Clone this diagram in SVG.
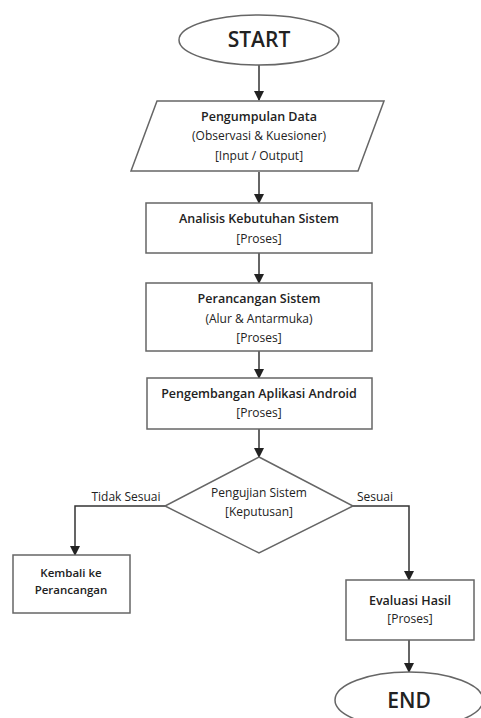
<svg xmlns="http://www.w3.org/2000/svg" width="481" height="718" viewBox="0 0 481 718">
  <defs>
    <marker id="arr" markerWidth="10" markerHeight="10" refX="9" refY="5" orient="auto" markerUnits="userSpaceOnUse">
      <path d="M0,0 L10,5 L0,10 Z" fill="#222"/>
    </marker>
    <style>
      .shape { fill: #fff; stroke: #666; stroke-width: 1.5; }
      .conn { fill: none; stroke: #333; stroke-width: 1.5; marker-end: url(#arr); }
      text { font-family: "Open Sans", "Noto Sans", "DejaVu Sans", sans-serif; fill: #222; text-anchor: middle; }
      .t { font-size: 12.5px; font-weight: 600; }
      .m { font-size: 11.5px; font-weight: 600; }
      .s { font-size: 12px; }
      .big { font-size: 21px; font-weight: 600; }
      .lbl { font-size: 12px; }
    </style>
  </defs>
  <rect width="481" height="718" fill="#fff"/>

  <g id="connectors">
    <line class="conn" x1="259" y1="65" x2="259" y2="100"/>
    <line class="conn" x1="259" y1="172" x2="259" y2="203"/>
    <line class="conn" x1="259" y1="253" x2="259" y2="283"/>
    <line class="conn" x1="259" y1="351" x2="259" y2="378"/>
    <line class="conn" x1="259" y1="429" x2="259" y2="457"/>
    <polyline class="conn" points="165,506 75,506 75,555"/>
    <polyline class="conn" points="353,506 409,506 409,580"/>
    <line class="conn" x1="409" y1="640" x2="409" y2="672"/>
    <text class="lbl" x="126" y="501">Tidak Sesuai</text>
    <text class="lbl" x="375" y="501">Sesuai</text>
  </g>

  <g id="start">
    <ellipse class="shape" cx="259" cy="40" rx="80" ry="25"/>
    <text class="big" x="259" y="47">START</text>
  </g>

  <g id="pengumpulan">
    <polygon class="shape" points="157,101 384,101 358,171 131,171"/>
    <text class="t" x="259" y="121">Pengumpulan Data</text>
    <text class="s" x="259" y="140">(Observasi &amp; Kuesioner)</text>
    <text class="s" x="259" y="160">[Input / Output]</text>
  </g>

  <g id="analisis">
    <rect class="shape" x="146" y="203" width="226" height="50"/>
    <text class="t" x="259" y="223">Analisis Kebutuhan Sistem</text>
    <text class="s" x="259" y="243">[Proses]</text>
  </g>

  <g id="perancangan">
    <rect class="shape" x="146" y="283" width="226" height="68"/>
    <text class="t" x="259" y="303">Perancangan Sistem</text>
    <text class="s" x="259" y="323">(Alur &amp; Antarmuka)</text>
    <text class="s" x="259" y="342">[Proses]</text>
  </g>

  <g id="pengembangan">
    <rect class="shape" x="147" y="378" width="225" height="51"/>
    <text class="t" x="259" y="398">Pengembangan Aplikasi Android</text>
    <text class="s" x="259" y="417">[Proses]</text>
  </g>

  <g id="pengujian">
    <polygon class="shape" points="259,457 353,506 259,553 165,506"/>
    <text class="s" x="259" y="497">Pengujian Sistem</text>
    <text class="s" x="259" y="516">[Keputusan]</text>
  </g>

  <g id="kembali">
    <rect class="shape" x="13" y="555" width="117" height="58"/>
    <text class="m" x="71" y="577">Kembali ke</text>
    <text class="m" x="71" y="594">Perancangan</text>
  </g>

  <g id="evaluasi">
    <rect class="shape" x="346" y="580" width="128" height="60"/>
    <text class="t" x="410" y="605">Evaluasi Hasil</text>
    <text class="s" x="410" y="623">[Proses]</text>
  </g>

  <g id="end">
    <ellipse class="shape" cx="409" cy="700" rx="74" ry="28"/>
    <text class="big" x="409" y="708">END</text>
  </g>
</svg>
